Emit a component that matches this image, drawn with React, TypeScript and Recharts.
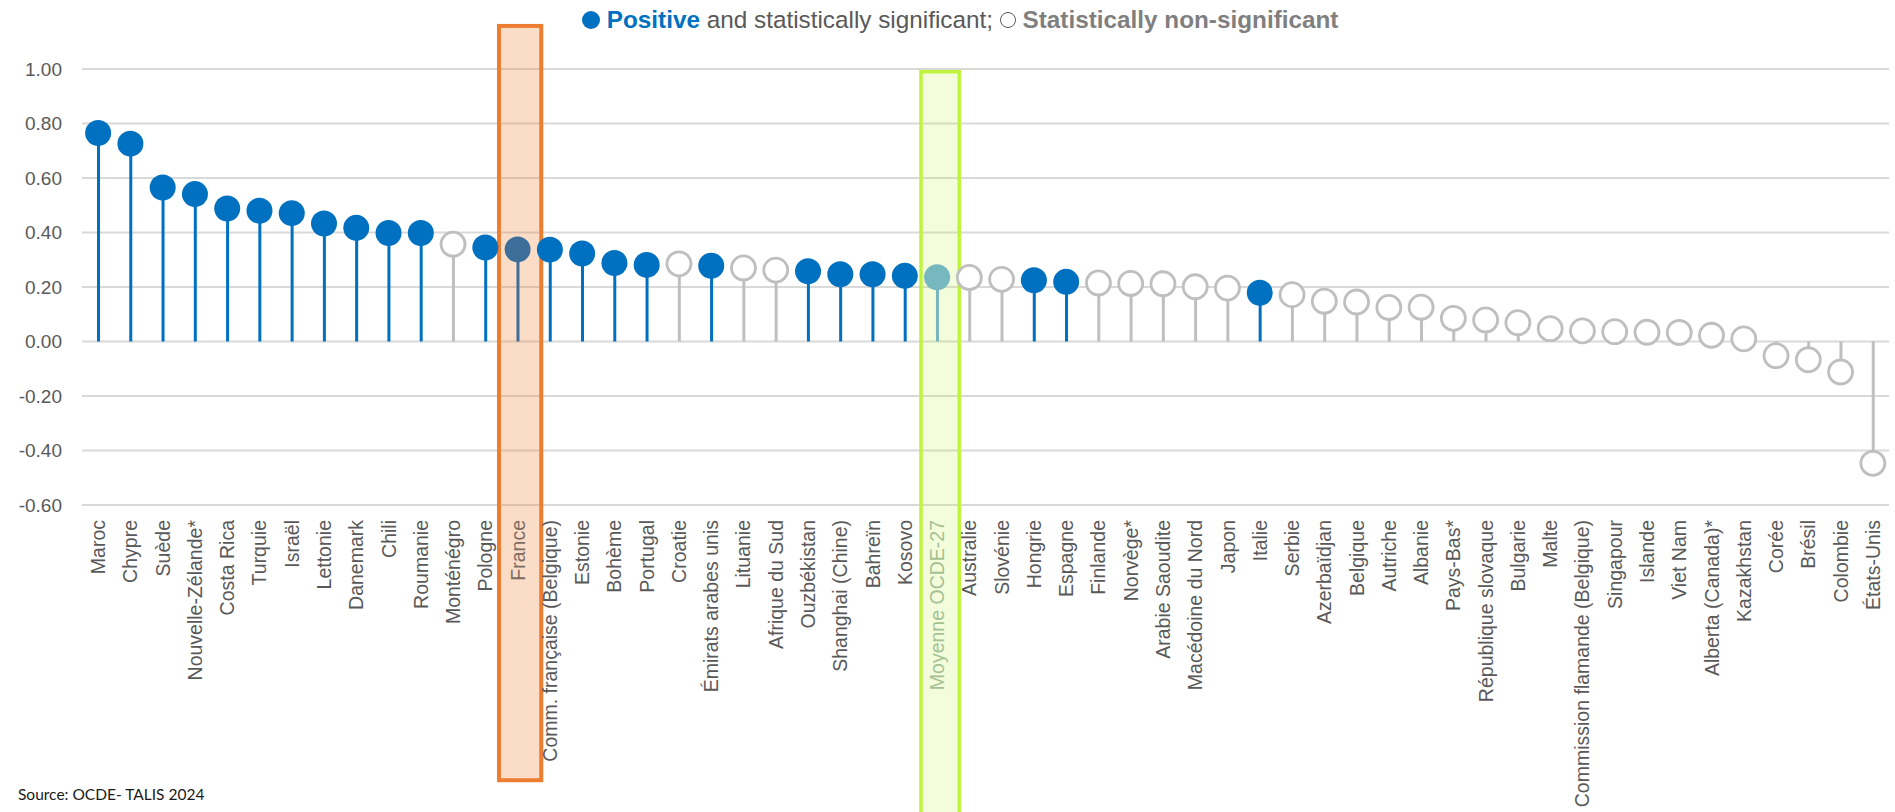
import { ComposedChart, Bar, Line, Cell, XAxis, YAxis, CartesianGrid, ReferenceArea } from 'recharts'

const countries = [
  'Maroc', 'Chypre', 'Suède', 'Nouvelle-Zélande*', 'Costa Rica', 'Turquie', 'Israël', 'Lettonie',
  'Danemark', 'Chili', 'Roumanie', 'Monténégro', 'Pologne', 'France', 'Comm. française (Belgique)',
  'Estonie', 'Bohème', 'Portugal', 'Croatie', 'Émirats arabes unis', 'Lituanie', 'Afrique du Sud',
  'Ouzbékistan', 'Shanghai (Chine)', 'Bahreïn', 'Kosovo', 'Moyenne OCDE-27', 'Australie', 'Slovénie',
  'Hongrie', 'Espagne', 'Finlande', 'Norvège*', 'Arabie Saoudite', 'Macédoine du Nord', 'Japon',
  'Italie', 'Serbie', 'Azerbaïdjan', 'Belgique', 'Autriche', 'Albanie', 'Pays-Bas*',
  'République slovaque', 'Bulgarie', 'Malte', 'Commission flamande (Belgique)', 'Singapour',
  'Islande', 'Viet Nam', 'Alberta (Canada)*', 'Kazakhstan', 'Corée', 'Brésil', 'Colombie', 'États-Unis',
]

const values = [
  0.765, 0.726, 0.565, 0.541, 0.488, 0.48, 0.471, 0.433,
  0.417, 0.398, 0.398, 0.357, 0.345, 0.338, 0.337,
  0.323, 0.288, 0.281, 0.285, 0.278, 0.27, 0.262,
  0.258, 0.247, 0.247, 0.241, 0.236, 0.235, 0.228,
  0.225, 0.219, 0.215, 0.213, 0.212, 0.201, 0.196,
  0.179, 0.172, 0.148, 0.145, 0.125, 0.126, 0.085,
  0.079, 0.069, 0.047, 0.039, 0.036,
  0.034, 0.033, 0.023, 0.01, -0.052, -0.067, -0.112, -0.447,
]

// true = positive and statistically significant (filled dot)
const significant = [
  true, true, true, true, true, true, true, true,
  true, true, true, false, true, true, true,
  true, true, true, false, true, false, false,
  true, true, true, true, false, false, false,
  true, true, false, false, false, false, false,
  true, false, false, false, false, false, false,
  false, false, false, false, false,
  false, false, false, false, false, false, false, false,
]

const yTicks = [-0.6, -0.4, -0.2, 0, 0.2, 0.4, 0.6, 0.8, 1.0]

const FRANCE = 'France'
const OECD_AVG = 'Moyenne OCDE-27'

const BLUE = '#0070C0'
const GREY = '#BFBFBF'
const FRANCE_COLOR = '#3E6F9B'
const AVG_COLOR = '#77B7BE'
const TEXT = '#595959'
const FONT = '"Liberation Sans", Arial, sans-serif'

const data = countries.map((name, i) => ({ name, value: values[i], sig: significant[i] }))

const colorFor = (d: { name: string; sig: boolean }) => {
  if (d.name === OECD_AVG) return AVG_COLOR
  if (d.name === FRANCE) return FRANCE_COLOR
  return d.sig ? BLUE : GREY
}

function renderDot(props: any) {
  const { cx, cy, payload, index } = props
  if (cx == null || cy == null) return <g key={index} />
  if (payload.name === OECD_AVG || payload.sig) {
    return <circle key={index} cx={cx} cy={cy} r={13} fill={colorFor(payload)} />
  }
  return <circle key={index} cx={cx} cy={cy} r={12} fill="#fff" stroke={GREY} strokeWidth={2.8} />
}

function CountryTick(props: any) {
  const { x, y, payload } = props
  let color = TEXT
  if (payload.value === OECD_AVG) color = '#A5C193'
  if (payload.value === FRANCE) color = '#7C6D63'
  return (
    <g transform={`translate(${x},${y + 15})`}>
      <text transform="rotate(-90)" textAnchor="end" dominantBaseline="central"
        fontSize={19.5} fontFamily={FONT} fill={color}>
        {payload.value}
      </text>
    </g>
  )
}

const widen = (pad: number, shift: number) => (p: any) => (
  <rect x={p.x - pad + shift} y={p.y} width={p.width + pad * 2} height={p.height}
    fill={p.fill} fillOpacity={p.fillOpacity} stroke={p.stroke} strokeWidth={p.strokeWidth} />
)

export default function App() {
  return (
    <div style={{ position: 'absolute', left: 0, top: 0, width: 1895, height: 812, background: '#fff' }}>
      <div style={{ position: 'absolute', left: 582, top: 6, whiteSpace: 'nowrap', fontFamily: FONT, fontSize: 24.3, color: TEXT }}>
        <span style={{ display: 'inline-block', width: 18, height: 18, borderRadius: '50%', background: BLUE, verticalAlign: '-1px' }} />
        {' '}
        <b style={{ color: BLUE }}>Positive</b> and statistically significant;{' '}
        <span style={{ display: 'inline-block', width: 14, height: 14, borderRadius: '50%', border: `1.5px solid ${TEXT}`, verticalAlign: '0px' }} />
        {' '}
        <b style={{ color: '#7F7F7F' }}>Statistically non-significant</b>
      </div>

      <ComposedChart width={1895} height={812} data={data}
        margin={{ top: 69, right: 6, bottom: 27, left: 0 }}>
        <CartesianGrid vertical={false} stroke="#D9D9D9" strokeWidth={2} />
        <XAxis dataKey="name" interval={0} height={280} axisLine={false} tickLine={false}
          tickSize={0} tickMargin={0} tick={CountryTick} />
        <YAxis domain={[-0.6, 1.0]} ticks={yTicks} width={82} axisLine={false} tickLine={false}
          tickSize={0} tickMargin={20} tickFormatter={(v: number) => v.toFixed(2)}
          tick={{ fill: TEXT, fontSize: 19, fontFamily: FONT }} />
        <ReferenceArea x1={FRANCE} x2={FRANCE} y1={-1.61} y2={1.158} ifOverflow="visible"
          fill="#ED7D31" fillOpacity={0.27} stroke="#ED7D31" strokeWidth={4} shape={widen(5, 2.5)} />
        <ReferenceArea x1={OECD_AVG} x2={OECD_AVG} y1={-1.95} y2={0.99} ifOverflow="visible"
          fill="#BEF53C" fillOpacity={0.18} stroke="#BEF53C" strokeWidth={3.5} shape={widen(3, 3)} />
        <Bar dataKey="value" barSize={3} isAnimationActive={false}>
          {data.map((d) => (
            <Cell key={d.name} fill={colorFor(d)} />
          ))}
        </Bar>
        <Line dataKey="value" stroke="none" dot={renderDot} activeDot={false} isAnimationActive={false} />
      </ComposedChart>

      <div style={{ position: 'absolute', left: 18, top: 785, fontFamily: 'Lato, sans-serif', fontSize: 15.5, color: '#1a1a1a' }}>
        Source: OCDE- TALIS 2024
      </div>
    </div>
  )
}
